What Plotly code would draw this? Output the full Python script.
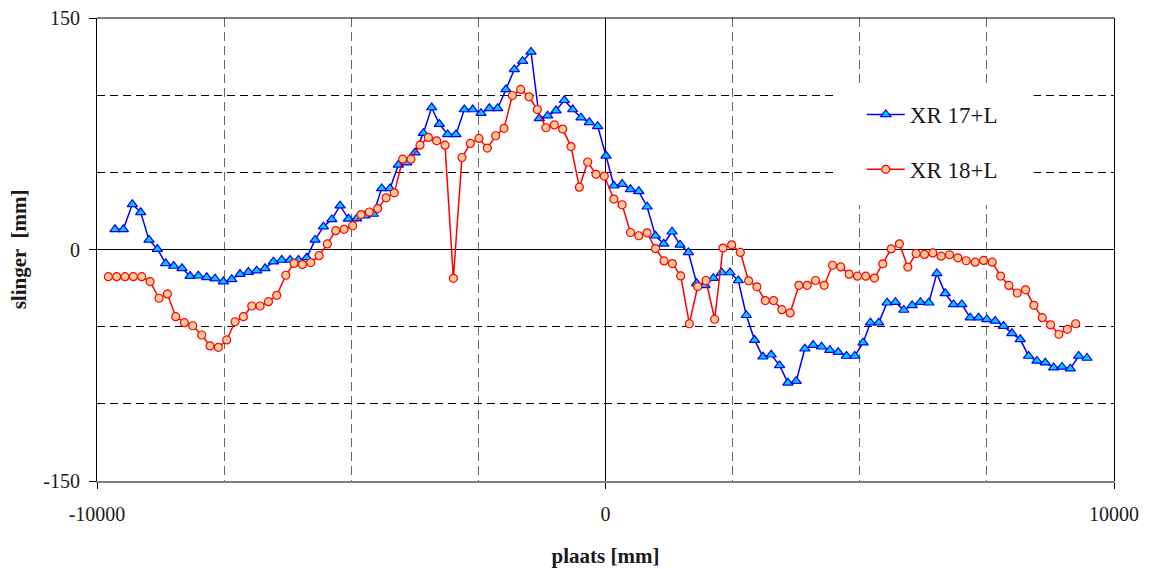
import plotly.graph_objects as go

# ---- data ----
xr17_x = [-9646, -9482, -9305, -9141, -8977, -8813, -8649, -8492, -8328, -8170,
          -8006, -7842, -7679, -7515, -7351, -7187, -7023, -6859, -6695, -6531,
          -6367, -6203, -6039, -5875, -5711, -5547, -5383, -5219, -5055, -4893,
          -4729, -4565, -4402, -4238, -4074, -3910, -3746, -3582, -3418, -3268,
          -3104, -2940, -2776, -2612, -2448, -2284, -2120, -1958, -1793, -1629,
          -1465, -1301, -1137, -973, -809, -645, -481, -318, -154, 10,
          164, 327, 491, 655, 818, 982, 1145, 1309, 1466, 1630,
          1793, 1957, 2121, 2284, 2448, 2611, 2769, 2932, 3096, 3259,
          3423, 3587, 3750, 3920, 4084, 4248, 4411, 4575, 4739, 4902,
          5066, 5210, 5374, 5538, 5702, 5866, 6030, 6194, 6358, 6516,
          6680, 6844, 7008, 7172, 7336, 7500, 7664, 7828, 7992, 8156,
          8320, 8484, 8648, 8813, 8977, 9141, 9305, 9469]
xr17_y = [13.1, 13.1, 29.3, 24.1, 6.2, 0.3, -9.0, -10.7, -12.2, -17.2,
          -17.0, -18.0, -18.9, -20.8, -19.3, -15.9, -14.6, -13.7, -12.2, -7.9,
          -6.8, -6.8, -6.8, -5.3, 6.2, 14.8, 19.5, 28.4, 19.9, 20.0,
          22.0, 23.0, 39.6, 39.6, 54.8, 56.3, 62.8, 75.4, 92.0, 81.3,
          74.6, 74.6, 90.7, 90.7, 88.3, 91.5, 91.5, 103.7, 116.7, 122.0,
          128.0, 85.0, 86.7, 90.0, 96.7, 90.7, 85.4, 82.4, 79.8, 60.7,
          41.3, 42.4, 39.0, 37.7, 27.7, 8.9, 3.7, 11.5, 3.0, -1.9,
          -21.9, -23.2, -18.6, -14.9, -14.9, -20.1, -42.6, -58.7, -69.5, -68.2,
          -75.1, -86.4, -85.3, -64.3, -61.9, -63.0, -65.2, -66.5, -69.0, -69.0,
          -60.4, -47.4, -47.4, -34.5, -34.1, -39.2, -36.2, -34.1, -34.5, -15.5,
          -28.4, -35.6, -35.6, -44.2, -44.2, -45.3, -46.3, -49.6, -54.3, -58.2,
          -69.0, -72.2, -73.3, -76.5, -76.1, -77.2, -69.0, -70.3]

xr18_x = [-9777, -9613, -9449, -9285, -9121, -8957, -8780, -8616, -8452, -8282,
          -8118, -7941, -7777, -7613, -7449, -7285, -7121, -6957, -6793, -6629,
          -6465, -6288, -6124, -5960, -5796, -5632, -5469, -5305, -5141, -4972,
          -4808, -4644, -4480, -4316, -4153, -3989, -3825, -3648, -3484, -3320,
          -3156, -2992, -2822, -2658, -2488, -2324, -2160, -1996, -1832, -1668,
          -1504, -1340, -1170, -1006, -842, -678, -514, -350, -186, -23,
          164, 327, 491, 655, 818, 982, 1152, 1315, 1479, 1649,
          1813, 1977, 2147, 2310, 2481, 2651, 2814, 2978, 3142, 3305,
          3469, 3632, 3803, 3966, 4130, 4300, 4464, 4627, 4791, 4955,
          5118, 5289, 5453, 5617, 5781, 5945, 6109, 6273, 6437, 6601,
          6765, 6929, 7093, 7270, 7434, 7605, 7769, 7933, 8097, 8261,
          8425, 8589, 8753, 8917, 9082, 9246]
xr18_y = [-17.6, -17.6, -17.6, -17.6, -17.6, -20.8, -31.6, -28.8, -43.5, -47.4,
          -49.4, -55.4, -62.5, -63.4, -58.6, -46.8, -43.5, -36.6, -36.6, -33.8,
          -29.7, -16.7, -9.0, -9.8, -8.5, -4.0, 3.6, 12.2, 13.1, 15.4,
          22.6, 24.3, 26.5, 33.5, 36.7, 58.5, 58.5, 67.6, 72.6, 70.4,
          67.6, -18.7, 59.6, 68.7, 72.0, 65.7, 73.7, 78.5, 99.8, 103.7,
          98.9, 90.7, 78.9, 80.7, 78.0, 66.7, 40.4, 56.7, 48.7, 47.6,
          32.7, 29.0, 11.0, 8.9, 10.8, 0.6, -7.4, -9.1, -17.1, -48.1,
          -24.0, -20.1, -45.2, 0.9, 3.0, -1.9, -20.3, -24.2, -33.1, -33.1,
          -39.0, -41.1, -23.2, -23.2, -20.1, -23.2, -10.2, -11.3, -16.0, -17.3,
          -17.3, -18.5, -9.3, 0.4, 3.7, -11.4, -2.6, -3.2, -2.2, -4.3,
          -3.4, -5.4, -7.3, -8.2, -7.1, -8.2, -17.2, -23.3, -28.2, -26.1,
          -36.2, -44.2, -48.9, -54.9, -51.7, -48.1]

series_names = ["XR 17+L", "XR 18+L"]
x_ticks = [-10000, 0, 10000]
y_ticks = [-150, 0, 150]

FONT = "Liberation Serif"
TXT = "#1a1a1a"

fig = go.Figure()
fig.add_trace(go.Scatter(
    x=xr17_x, y=xr17_y, mode="lines+markers", name=series_names[0],
    legendgroup="a",
    line=dict(color="#0000FF", width=1.5),
    marker=dict(symbol="triangle-up", size=9, color="#00CCFF",
                line=dict(color="#0000FF", width=1.2)),
))
fig.add_trace(go.Scatter(
    x=xr18_x, y=xr18_y, mode="lines+markers", name=series_names[1],
    legendgroup="b",
    line=dict(color="#FF0000", width=1.5),
    marker=dict(symbol="circle", size=8, color="#FFCC99",
                line=dict(color="#FF0000", width=1.2)),
))

# white box behind legend (hides gridlines there)
fig.add_shape(type="rect", xref="paper", yref="paper",
              x0=0.724, x1=0.921, y0=0.596, y1=0.855,
              fillcolor="white", line=dict(width=0), layer="above")
# top frame line
fig.add_shape(type="line", xref="paper", yref="paper",
              x0=0, x1=1, y0=1, y1=1, line=dict(color="black", width=1))

fig.update_layout(
    width=1154, height=569,
    margin=dict(l=97, r=40, t=18, b=88, autoexpand=False),
    paper_bgcolor="white", plot_bgcolor="white",
    font=dict(family=FONT, color=TXT, size=20),
    showlegend=True,
    legend=dict(x=0.752, y=0.838, xanchor="left", yanchor="top",
                bgcolor="rgba(0,0,0,0)", borderwidth=0,
                font=dict(family=FONT, size=23, color=TXT),
                traceorder="grouped", tracegroupgap=22,
                itemwidth=38),
)

fig.update_xaxes(
    range=[-10000, 10000], tickvals=x_ticks, ticktext=[str(v) for v in x_ticks],
    automargin=False,
    showgrid=False, zeroline=True, zerolinecolor="black", zerolinewidth=1,
    showline=True, linecolor="#808080", linewidth=2,
    ticks="outside", ticklen=6, tickcolor="black", tickwidth=1,
    tickfont=dict(family=FONT, size=20, color=TXT),
    ticklabelstandoff=8,
    minor=dict(dtick=2500, tick0=0, showgrid=True, gridcolor="#666666",
               gridwidth=1.3, griddash="9px,5px", ticks=""),
    title=dict(text="<b>plaats [mm]</b>", standoff=24,
               font=dict(family=FONT, size=21, color=TXT)),
)
fig.update_yaxes(
    range=[-150, 150], tickvals=y_ticks, ticktext=[str(v) for v in y_ticks],
    automargin=False,
    showgrid=False, zeroline=True, zerolinecolor="black", zerolinewidth=1,
    showline=True, linecolor="black", linewidth=1, mirror=True,
    ticks="outside", ticklen=7, tickcolor="black", tickwidth=1,
    tickfont=dict(family=FONT, size=20, color=TXT),
    ticklabelstandoff=5,
    minor=dict(dtick=50, tick0=0, showgrid=True, gridcolor="black",
               gridwidth=1, griddash="8px,5px", ticks=""),
    title=dict(text="<b>slinger  [mm]</b>", standoff=10,
               font=dict(family=FONT, size=21, color=TXT)),
)

fig.write_html("out.html",
               config={"displayModeBar": False},
               post_script="document.body.style.margin='0';document.body.style.padding='0';")
